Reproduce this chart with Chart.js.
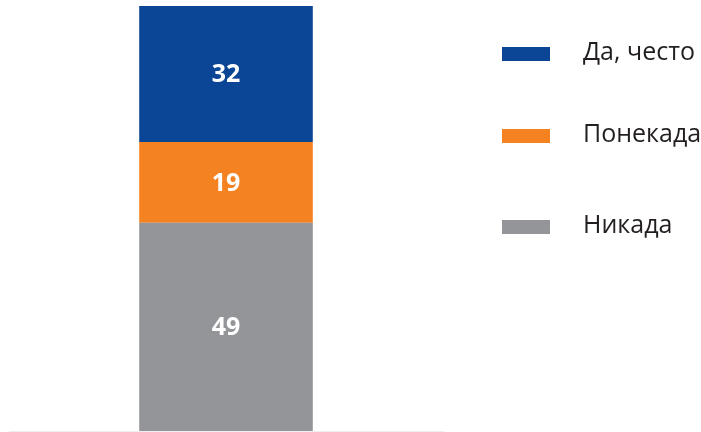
<!DOCTYPE html>
<html>
<head>
<meta charset="utf-8">
<script src="https://cdn.jsdelivr.net/npm/chart.js@4"></script>
<style>
  html, body { margin: 0; padding: 0; background: #fff; }
  #wrap { width: 701px; height: 432px; position: relative; }
</style>
</head>
<body>
<div id="wrap"><canvas id="chart"></canvas></div>
<script>
// Single stacked column, bottom to top
const categories = [''];
const seriesLabels = ['Никада', 'Понекада', 'Да, често'];
const seriesValues = [[49], [19], [32]];
const seriesColors = ['#939598', '#f58220', '#0b4595'];

// legend drawn by hand, top to bottom
const legendOrder = [2, 1, 0];
const legendRows = [54, 136, 227];

const valueLabels = {
    id: 'valueLabels',
    afterDatasetsDraw(chart) {
        const ctx = chart.ctx;
        ctx.save();
        ctx.fillStyle = '#fff';
        ctx.font = "bold 25px 'Open Sans', sans-serif";
        ctx.textAlign = 'center';
        ctx.textBaseline = 'middle';
        chart.data.datasets.forEach((ds, i) => {
            chart.getDatasetMeta(i).data.forEach((bar, j) => {
                const mid = (bar.y + bar.base) / 2;
                ctx.fillText(ds.data[j], bar.x, mid + 1);
            });
        });
        ctx.restore();
    }
};

const sideLegend = {
    id: 'sideLegend',
    afterDraw(chart) {
        const ctx = chart.ctx;
        ctx.save();
        ctx.font = "25px 'Open Sans', sans-serif";
        ctx.textBaseline = 'middle';
        ctx.textAlign = 'left';
        legendOrder.forEach((idx, r) => {
            const y = legendRows[r];
            ctx.fillStyle = seriesColors[idx];
            ctx.fillRect(502, y - 7, 48, 14);
            ctx.fillStyle = '#231f20';
            ctx.fillText(seriesLabels[idx], 583, y - 1);
        });
        ctx.restore();
    }
};

new Chart(document.getElementById('chart'), {
    type: 'bar',
    data: {
        labels: categories,
        datasets: seriesLabels.map((label, i) => ({
            label: label,
            data: seriesValues[i],
            backgroundColor: seriesColors[i],
            borderWidth: 0,
            barPercentage: 0.4,
            categoryPercentage: 1
        }))
    },
    options: {
        responsive: true,
        maintainAspectRatio: false,
        animation: false,
        layout: {
            padding: { left: 9, right: 258, top: 6, bottom: -7 }
        },
        plugins: {
            legend: { display: false },
            tooltip: { enabled: false }
        },
        scales: {
            x: {
                stacked: true,
                grid: { display: false },
                ticks: { display: false },
                border: { color: '#eeeeee', width: 1 }
            },
            y: {
                stacked: true,
                display: false,
                min: 0,
                max: 100
            }
        }
    },
    plugins: [valueLabels, sideLegend]
});
</script>
</body>
</html>
